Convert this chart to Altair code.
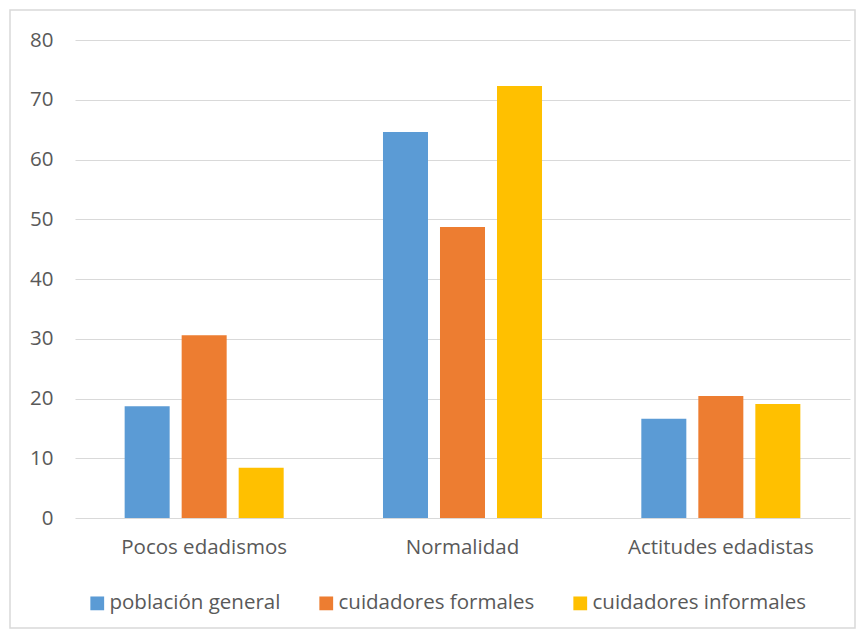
import altair as alt
import pandas as pd

categories = ["Pocos edadismos", "Normalidad", "Actitudes edadistas"]
series = ["población general", "cuidadores formales", "cuidadores informales"]
poblacion_general = [18.7, 64.6, 16.6]
cuidadores_formales = [30.6, 48.7, 20.4]
cuidadores_informales = [8.4, 72.3, 19.1]
colors = ["#5B9BD5", "#ED7D31", "#FFC000"]

rows = []
for vals, s in zip([poblacion_general, cuidadores_formales, cuidadores_informales], series):
    for c, v in zip(categories, vals):
        rows.append({"categoria": c, "serie": s, "valor": v})
df = pd.DataFrame(rows)

FONT = "Open Sans"
TXT = "#595959"
FS = 20.5

bars = alt.Chart(df).mark_bar().encode(
    x=alt.X("categoria:N", sort=categories, title=None,
            scale=alt.Scale(paddingInner=0, paddingOuter=0),
            axis=alt.Axis(labelAngle=0, ticks=False, domain=False, labelPadding=19,
                          labelLimit=0,
                          labelFont=FONT, labelFontSize=FS, labelColor=TXT, grid=False)),
    xOffset=alt.XOffset("serie:N", sort=series,
                        scale=alt.Scale(paddingInner=0.2105, paddingOuter=0.871)),
    y=alt.Y("valor:Q", title=None,
            scale=alt.Scale(domain=[0, 80]),
            axis=alt.Axis(values=list(range(0, 81, 10)), ticks=False, domain=False,
                          labelPadding=22, labelFont=FONT, labelFontSize=FS,
                          labelColor=TXT, gridColor="#d9d9d9", gridWidth=1)),
    color=alt.Color("serie:N", sort=series,
                    scale=alt.Scale(domain=series, range=colors),
                    legend=alt.Legend(title=None, orient="none", legendX=12, legendY=553,
                                      direction="horizontal", columns=3,
                                      symbolType="square", symbolSize=190,
                                      symbolStrokeWidth=0, labelFont=FONT,
                                      labelFontSize=FS, labelColor=TXT, labelLimit=0,
                                      labelOffset=2, columnPadding=35)),
)

border = alt.Chart(pd.DataFrame({"a": [0]})).mark_rect(
    fill=None, stroke="#d9d9d9", strokeWidth=1.5
).encode(x=alt.value(-65), x2=alt.value(780), y=alt.value(-30), y2=alt.value(588))

chart = alt.layer(bars, border).properties(
    width=775, height=478,
    padding={"left": 75, "top": 40, "right": 16, "bottom": 115},
    autosize=alt.AutoSizeParams(type="none"),
    background="white",
).configure_view(stroke=None)

chart.save("out.html", embed_options={"renderer": "svg", "actions": False})
